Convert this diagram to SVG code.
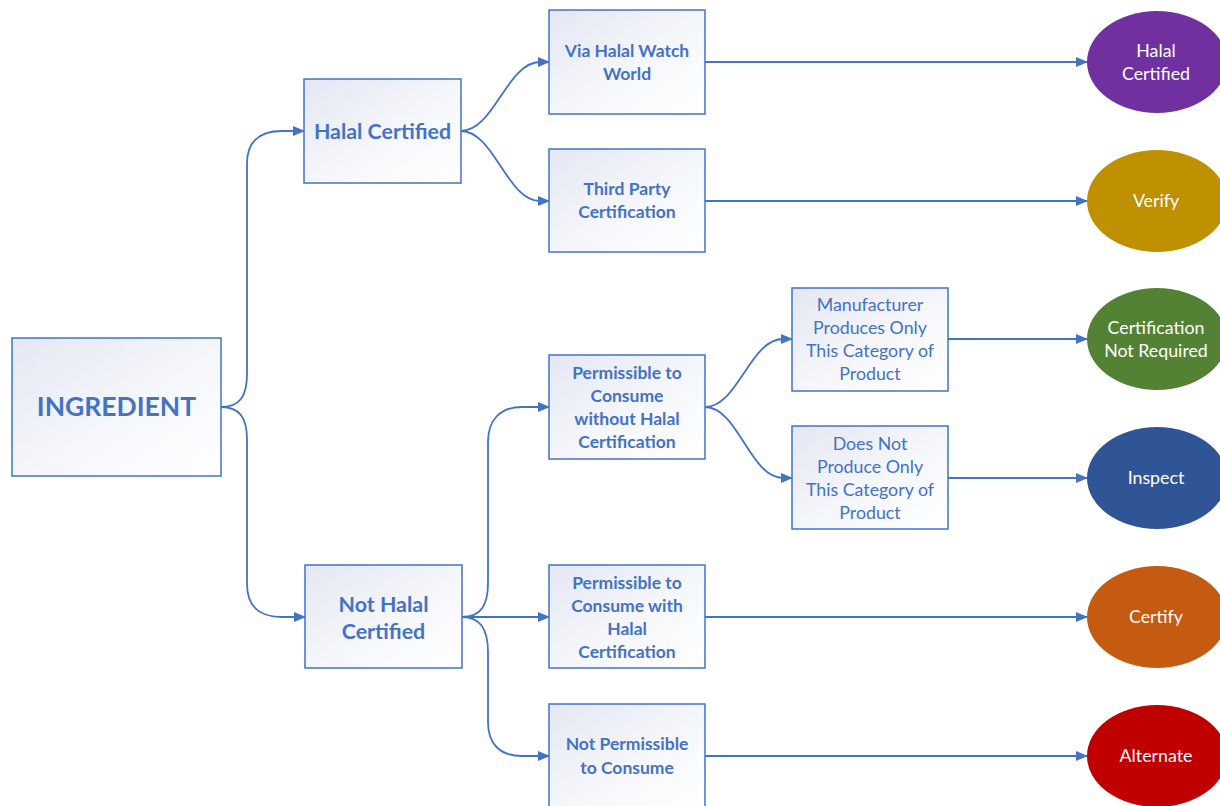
<svg xmlns="http://www.w3.org/2000/svg" width="1220" height="806" viewBox="0 0 1220 806">
  <defs>
    <linearGradient id="boxFill" x1="0" y1="0" x2="1" y2="1">
      <stop offset="0" stop-color="#E4E7F3"/>
      <stop offset="0.55" stop-color="#F6F7FB"/>
      <stop offset="1" stop-color="#FFFFFF"/>
    </linearGradient>
    <marker id="arrow" viewBox="0 0 12 10" refX="11" refY="5" markerWidth="12" markerHeight="10" markerUnits="userSpaceOnUse" orient="auto">
      <path d="M0,0 L12,5 L0,10 z" fill="#4472C4"/>
    </marker>
  </defs>
  <style>
    .box { fill: url(#boxFill); stroke: #4472C4; stroke-width: 1.5; }
    .lbl { font-family: Lato, "Open Sans", "Liberation Sans", sans-serif; fill: #4472C4; text-anchor: middle; }
    .b { font-weight: bold; font-size: 17.5px; }
    .r { font-size: 17.8px; }
    .ell { stroke: none; }
    .etxt { font-family: Lato, "Open Sans", "Liberation Sans", sans-serif; fill: #FFFFFF; font-size: 17.8px; text-anchor: middle; }
    .conn { fill: none; stroke: #4472C4; stroke-width: 1.8; marker-end: url(#arrow); }
  </style>
  <rect width="1220" height="806" fill="#FFFFFF"/>

  <!-- connectors -->
  <g id="connectors">
    <path class="conn" d="M221,407 C240,407 247,396 247,374 L247,164 C247,142 259,131 282,131 L304,131"/>
    <path class="conn" d="M221,407 C240,407 247,418 247,440 L247,584 C247,606 259,617 282,617 L305,617"/>
    <path class="conn" d="M461,131 C494,131 507,62 540,62 L549,62"/>
    <path class="conn" d="M461,131 C494,131 507,201 540,201 L549,201"/>
    <path class="conn" d="M462,617 C481,617 488,605 488,583 L488,442 C488,420 500,407 522,407 L549,407"/>
    <path class="conn" d="M462,617 L549,617"/>
    <path class="conn" d="M462,617 C481,617 488,630 488,652 L488,722 C488,744 500,756 522,756 L549,756"/>
    <path class="conn" d="M705,407 C738,407 750,339 783,339 L792,339"/>
    <path class="conn" d="M705,407 C738,407 750,478 783,478 L792,478"/>
    <path class="conn" d="M705,62 L1087,62"/>
    <path class="conn" d="M705,201 L1087,201"/>
    <path class="conn" d="M948,339 L1087,339"/>
    <path class="conn" d="M948,478 L1087,478"/>
    <path class="conn" d="M705,617 L1087,617"/>
    <path class="conn" d="M705,756 L1087,756"/>
  </g>

  <g id="ingredient">
    <rect class="box" x="12" y="338" width="209" height="138"/>
    <text class="lbl" x="116.5" y="416" font-weight="bold" font-size="26.5">INGREDIENT</text>
  </g>
  <g id="halal-certified">
    <rect class="box" x="304" y="79" width="157" height="104"/>
    <text class="lbl" x="382.5" y="139" font-weight="bold" font-size="21.4">Halal Certified</text>
  </g>
  <g id="not-halal-certified">
    <rect class="box" x="305" y="565" width="157" height="103"/>
    <text class="lbl" x="383.5" y="612" font-weight="bold" font-size="21.4">Not Halal</text>
    <text class="lbl" x="383.5" y="639" font-weight="bold" font-size="21.4">Certified</text>
  </g>
  <g id="via-hww">
    <rect class="box" x="549" y="10" width="156" height="104"/>
    <text class="lbl b" x="627" y="57">Via Halal Watch</text>
    <text class="lbl b" x="627" y="80">World</text>
  </g>
  <g id="third-party">
    <rect class="box" x="549" y="149" width="156" height="103"/>
    <text class="lbl b" x="627" y="195">Third Party</text>
    <text class="lbl b" x="627" y="218">Certification</text>
  </g>
  <g id="permissible-without">
    <rect class="box" x="549" y="355" width="156" height="104"/>
    <text class="lbl b" x="627" y="379">Permissible to</text>
    <text class="lbl b" x="627" y="402">Consume</text>
    <text class="lbl b" x="627" y="425">without Halal</text>
    <text class="lbl b" x="627" y="448">Certification</text>
  </g>
  <g id="manufacturer-only">
    <rect class="box" x="792" y="288" width="156" height="103"/>
    <text class="lbl r" x="870" y="311">Manufacturer</text>
    <text class="lbl r" x="870" y="334">Produces Only</text>
    <text class="lbl r" x="870" y="357">This Category of</text>
    <text class="lbl r" x="870" y="380">Product</text>
  </g>
  <g id="does-not-produce">
    <rect class="box" x="792" y="426" width="156" height="103"/>
    <text class="lbl r" x="870" y="450">Does Not</text>
    <text class="lbl r" x="870" y="473">Produce Only</text>
    <text class="lbl r" x="870" y="496">This Category of</text>
    <text class="lbl r" x="870" y="519">Product</text>
  </g>
  <g id="permissible-with">
    <rect class="box" x="549" y="565" width="156" height="103"/>
    <text class="lbl b" x="627" y="589">Permissible to</text>
    <text class="lbl b" x="627" y="612">Consume with</text>
    <text class="lbl b" x="627" y="635">Halal</text>
    <text class="lbl b" x="627" y="658">Certification</text>
  </g>
  <g id="not-permissible">
    <rect class="box" x="549" y="704" width="156" height="104"/>
    <text class="lbl b" x="627" y="750">Not Permissible</text>
    <text class="lbl b" x="627" y="774">to Consume</text>
  </g>

  <g id="out-halal-certified">
    <ellipse class="ell" cx="1157" cy="62" rx="70" ry="51" fill="#7030A0"/>
    <text class="etxt" x="1156" y="57">Halal</text>
    <text class="etxt" x="1156" y="80">Certified</text>
  </g>
  <g id="out-verify">
    <ellipse class="ell" cx="1157" cy="201" rx="70" ry="51" fill="#BF9000"/>
    <text class="etxt" x="1156" y="207">Verify</text>
  </g>
  <g id="out-not-required">
    <ellipse class="ell" cx="1157" cy="339" rx="70" ry="51" fill="#548235"/>
    <text class="etxt" x="1156" y="334">Certification</text>
    <text class="etxt" x="1156" y="357">Not Required</text>
  </g>
  <g id="out-inspect">
    <ellipse class="ell" cx="1157" cy="478" rx="70" ry="51" fill="#2F5597"/>
    <text class="etxt" x="1156" y="484">Inspect</text>
  </g>
  <g id="out-certify">
    <ellipse class="ell" cx="1157" cy="617" rx="70" ry="51" fill="#C55A11"/>
    <text class="etxt" x="1156" y="623">Certify</text>
  </g>
  <g id="out-alternate">
    <ellipse class="ell" cx="1157" cy="756" rx="70" ry="51" fill="#C00000"/>
    <text class="etxt" x="1156" y="762">Alternate</text>
  </g>
</svg>
